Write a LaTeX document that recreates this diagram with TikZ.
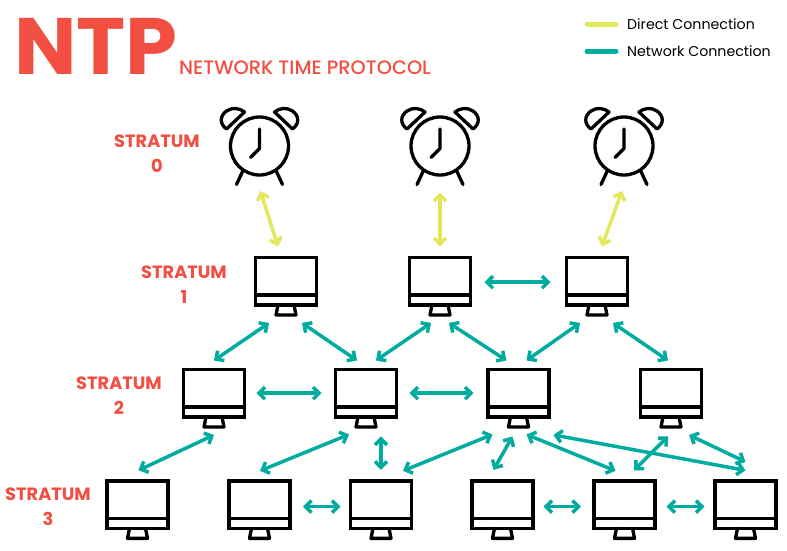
\documentclass[tikz,border=0pt]{standalone}
\usepackage{fontspec}
\setmainfont{Poppins}
\newfontfamily\headfont[FakeStretch=1.04]{Poppins}
\newfontfamily\subheadfont{Poppins Medium}
\usetikzlibrary{arrows.meta}
\definecolor{ntpred}{HTML}{F24E41}
\definecolor{directcol}{HTML}{E1E85C}
\definecolor{netcol}{HTML}{00AB9F}
\tikzset{
  body/.style = {line width=3.3pt, line join=round, line cap=round},
  screen/.style = {draw, line width=3.3pt, minimum width=61pt, minimum height=47.5pt, inner sep=0pt, outer sep=0pt},
  dial/.style = {draw, circle, line width=3.3pt, minimum size=58pt, inner sep=0pt, outer sep=0pt},
  direct/.style = {draw=directcol, line width=3.5pt, line cap=round, {Straight Barb[length=6pt,width=12pt]}-{Straight Barb[length=6pt,width=12pt]}},
  network/.style = {draw=netcol, line width=3.5pt, line cap=round, {Straight Barb[length=6pt,width=12pt]}-{Straight Barb[length=6pt,width=12pt]}},
  stratum/.style = {text=ntpred, font=\bfseries\fontsize{17.8}{24.5}\selectfont, align=center},
  legendtext/.style = {anchor=west, inner sep=0pt, font=\fontsize{14.2}{16}\selectfont}
}
\newcommand{\monitor}[3]{
  \node[screen] (#1) at (#2,#3) {};
  \draw[body] ([yshift=10pt]#1.south west) -- ([yshift=10pt]#1.south east);
  \draw[body] ([xshift=-8pt]#1.south) -- ([xshift=-10pt,yshift=-10pt]#1.south)
    -- ([xshift=10pt,yshift=-10pt]#1.south) -- ([xshift=8pt]#1.south);
}
\newcommand{\alarmclock}[3]{
  \begin{scope}[shift={(#2,#3)}]
  \node[dial] (#1) at (0,0) {};
  \draw[body] (0,-17) -- (0,2.5) -- (-9,11.5);
  \draw[body] (-16.5,24.5) -- (-23,38.5);
  \draw[body] (16.5,24.5) -- (23,38.5);
  \draw[body] (-33,-17) .. controls (-40,-22) and (-40,-30) .. (-33,-35) .. controls (-27,-39) and (-20,-38) .. (-15,-34) -- cycle;
  \draw[body] (33,-17) .. controls (40,-22) and (40,-30) .. (33,-35) .. controls (27,-39) and (20,-38) .. (15,-34) -- cycle;
  \end{scope}
}
\begin{document}
\begin{tikzpicture}[x=1pt, y=-1pt]
\useasboundingbox (0,0) rectangle (787,550);
% heading
\node[anchor=base west, inner sep=0pt, text=ntpred, font=\headfont\bfseries\fontsize{80}{80}\selectfont] (ntp) at (14,74) {NTP};
\node[anchor=base west, inner sep=0pt, text=ntpred, font=\subheadfont\fontsize{19.4}{22}\selectfont] (ntpname) at (179,74) {NETWORK TIME PROTOCOL};
% legend
\node[legendtext] (directlabel) at (627,24) {Direct Connection};
\node[legendtext] (networklabel) at (627,51) {Network Connection};
\draw[directcol, line width=5pt, line cap=round] ([xshift=-40pt]directlabel.west) -- ([xshift=-11pt]directlabel.west);
\draw[netcol, line width=5pt, line cap=round] ([xshift=-40pt]networklabel.west) -- ([xshift=-11pt]networklabel.west);
% strata
\node[stratum] (stratum0) at (157,153.5) {STRATUM\\0};
\node[stratum] (stratum1) at (184,284.5) {STRATUM\\1};
\node[stratum] (stratum2) at (119,395.5) {STRATUM\\2};
\node[stratum] (stratum3) at (48,506.5) {STRATUM\\3};
% clocks
\alarmclock{clocka}{259.5}{146}
\alarmclock{clockb}{440}{146}
\alarmclock{clockc}{624}{146}
% monitors
\monitor{onea}{286}{281.2}
\monitor{oneb}{440}{281.2}
\monitor{onec}{597}{281.2}
\monitor{twoa}{214}{393.2}
\monitor{twob}{366}{393.2}
\monitor{twoc}{518.5}{393.2}
\monitor{twod}{671}{393.2}
\monitor{threea}{137.5}{504.6}
\monitor{threeb}{259.5}{504.6}
\monitor{threec}{381}{504.6}
\monitor{threed}{502.5}{504.6}
\monitor{threee}{624.5}{504.6}
\monitor{threef}{745.5}{504.6}
% direct links
\draw[direct] ([shift={(1,16)}]clocka.south) -- ([shift={(-8,-11)}]onea.north);
\draw[direct] ([shift={(0,17.5)}]clockb.south) -- ([shift={(0,-11)}]oneb.north);
\draw[direct] ([shift={(-2,16)}]clockc.south) -- ([shift={(5,-11)}]onec.north);
% stratum 1 to 2
\draw[network] ([shift={(14,1)}]oneb.east) -- ([shift={(-16,1)}]onec.west);
\draw[network] ([shift={(-17,18)}]onea.south) -- ([shift={(0,-9)}]twoa.north);
\draw[network] ([shift={(16,18)}]onea.south) -- ([shift={(-9,-9)}]twob.north);
\draw[network] ([shift={(-9,18)}]oneb.south) -- ([shift={(10,-9)}]twob.north);
\draw[network] ([shift={(9,18)}]oneb.south) -- ([shift={(-12,-9)}]twoc.north);
\draw[network] ([shift={(-17,18)}]onec.south) -- ([shift={(8,-9)}]twoc.north);
\draw[network] ([shift={(16,18)}]onec.south) -- ([shift={(-3,-9)}]twod.north);
% stratum 2 to 3
\draw[network] ([xshift=12pt]twoa.east) -- ([xshift=-14pt]twob.west);
\draw[network] ([xshift=13pt]twob.east) -- ([xshift=-14.5pt]twoc.west);
\draw[network] ([shift={(0,18)}]twoa.south) -- ([shift={(1,-10.5)}]threea.north);
\draw[network] ([shift={(-17,17.5)}]twob.south) -- ([shift={(0.5,-10)}]threeb.north);
\draw[network] ([shift={(15,19.5)}]twob.south) -- ([shift={(0,-11)}]threec.north);
\draw[network] ([shift={(-26,17.5)}]twoc.south) -- ([shift={(22,-10)}]threec.north);
\draw[network] ([shift={(-6,19.5)}]twoc.south) -- ([shift={(-9,-11)}]threed.north);
\draw[network] ([shift={(8,17.5)}]twoc.south) -- ([shift={(-9,-10)}]threee.north);
\draw[network] ([shift={(35,18)}]twoc.south) -- ([shift={(0,-10.5)}]threef.north);
\draw[network] ([shift={(-3,19.5)}]twod.south) -- ([shift={(9.5,-10.5)}]threee.north);
\draw[network] ([shift={(18,18)}]twod.south) -- ([shift={(0,-19)}]threef.north);
% stratum 3
\draw[network] ([shift={(13,2)}]threeb.east) -- ([shift={(-10,2)}]threec.west);
\draw[network] ([shift={(10.5,2)}]threed.east) -- ([shift={(-13,2)}]threee.west);
\draw[network] ([shift={(11.5,2)}]threee.east) -- ([shift={(-10.5,2)}]threef.west);
\end{tikzpicture}
\end{document}
